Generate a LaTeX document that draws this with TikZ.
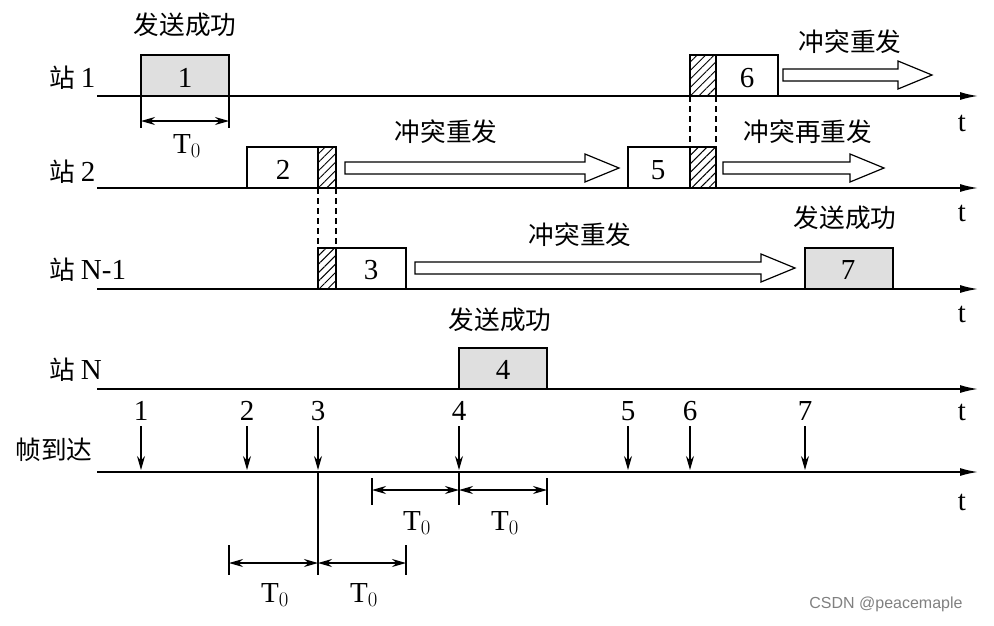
\documentclass[tikz,border=0pt]{standalone}
\usepackage{fontspec}
\setmainfont{Liberation Serif}
\newfontfamily\cjk{Noto Sans CJK SC}[Scale=0.95]
\usetikzlibrary{patterns,patterns.meta,arrows.meta}
\newcommand\hollowarr[4]{% name x1 x2 y
 \draw[line width=1.2pt,fill=white] (#2,#4-6) -- (#3-34,#4-6) -- (#3-34,#4-14) -- (#3,#4) -- (#3-34,#4+14) -- (#3-34,#4+6) -- (#2,#4+6) -- cycle;
 \coordinate (#1) at (#2,#4);}
\begin{document}
\begin{tikzpicture}[x=1pt,y=-1pt,
 ax/.style={line width=1.5pt,-{Latex[length=18pt,width=8pt]}},
 box/.style={draw,line width=1.2pt},
 gbox/.style={box,fill=gray!25},
 hat/.style={draw,line width=1.2pt,pattern={Lines[angle=45,distance=6pt,line width=1pt]}},
 lab/.style={font=\fontsize{29}{31}\selectfont},
 cn/.style={font=\fontsize{27}{29}\cjk},
 dim/.style={line width=1.2pt,{Stealth[length=14pt,width=8pt]}-{Stealth[length=14pt,width=8pt]}},
 tk/.style={line width=1.2pt},
 dsh/.style={line width=1.2pt,dash pattern=on 6pt off 4pt},
 arr/.style={line width=1.2pt,-{Stealth[length=14pt,width=8pt]}}]
\useasboundingbox (0,0) rectangle (994,625);
% axes
\foreach \n/\y/\ty in {a1/96/123,a2/188/213,a3/289/314,a4/389/412,a5/472/502}{
 \coordinate (\n s) at (97,\y); \coordinate (\n e) at (978,\y);
 \draw[ax] (\n s) -- (\n e);
 \node[lab] (t\n) at (962,\ty) {t};}
\node[cn,anchor=west] (s1) at (46,78) {站 \fontsize{29}{31}\rmfamily 1};
\node[cn,anchor=west] (s2) at (46,172) {站 \fontsize{29}{31}\rmfamily 2};
\node[cn,anchor=west] (s3) at (46,270) {站 \fontsize{29}{31}\rmfamily N-1};
\node[cn,anchor=west] (s4) at (46,370) {站 \fontsize{29}{31}\rmfamily N};
\node[cn,anchor=west] (s5) at (12,450) {帧到达};
% station 1
\draw[gbox] (141,55) rectangle (229,96); \node[lab] (n1) at (185,78) {1};
\node[cn] (l1) at (185,25) {发送成功};
\draw[tk] (141,96) -- (141,128) (229,96) -- (229,128);
\coordinate (d1a) at (141,121); \coordinate (d1b) at (229,121);
\draw[dim] (d1a) -- (d1b);
\node[lab] (T1) at (187,146) {T$_{\scriptstyle 0}$};
\draw[hat] (690,55) rectangle (716,96);
\draw[box] (716,55) rectangle (778,96); \node[lab] (n6) at (747,78) {6};
\hollowarr{h6}{783}{932}{75}
\node[cn] (l6) at (850,42) {冲突重发};
% station 2
\draw[box] (247,147) rectangle (318,188); \node[lab] (n2) at (283,170) {2};
\draw[hat] (318,147) rectangle (336,188);
\hollowarr{h2}{345}{619}{168}
\node[cn] (l2) at (446,132) {冲突重发};
\draw[box] (628,147) rectangle (690,188); \node[lab] (n5) at (658,170) {5};
\draw[hat] (690,147) rectangle (716,188);
\hollowarr{h5}{723}{884}{168}
\node[cn] (l5) at (808,132) {冲突再重发};
\draw[dsh] (690,96) -- (690,147) (716,96) -- (716,147);
% station N-1
\draw[hat] (318,248) rectangle (336,289);
\draw[box] (336,248) rectangle (406,289); \node[lab] (n3) at (371,270) {3};
\draw[dsh] (318,188) -- (318,248) (336,188) -- (336,248);
\hollowarr{h3}{415}{795}{268}
\node[cn] (l3) at (580,235) {冲突重发};
\draw[gbox] (805,248) rectangle (893,289); \node[lab] (n7) at (848,270) {7};
\node[cn] (l7) at (845,218) {发送成功};
% station N
\draw[gbox] (459,348) rectangle (547,389); \node[lab] (n4) at (503,370) {4};
\node[cn] (l4) at (500,320) {发送成功};
% arrivals
\foreach \i/\x in {1/141,2/247,3/318,4/459,5/628,6/690,7/805}{
 \node[lab] (f\i) at (\x,411) {\i};
 \coordinate (fa\i) at (\x,426); \coordinate (fb\i) at (\x,470);
 \draw[arr] (fa\i) -- (fb\i);}
% T0 dims
\draw[tk] (372,478) -- (372,505) (547,478) -- (547,505) (459,472) -- (459,505);
\coordinate (p1) at (372,490); \coordinate (p2) at (459,490); \coordinate (p3) at (547,490);
\draw[dim] (p1) -- (p2); \draw[dim] (p2) -- (p3);
\node[lab] (T2) at (417,523) {T$_{\scriptstyle 0}$}; \node[lab] (T3) at (505,523) {T$_{\scriptstyle 0}$};
\draw[tk] (229,545) -- (229,575) (406,545) -- (406,575) (318,472) -- (318,575);
\coordinate (q1) at (229,563); \coordinate (q2) at (318,563); \coordinate (q3) at (406,563);
\draw[dim] (q1) -- (q2); \draw[dim] (q2) -- (q3);
\node[lab] (T4) at (275,595) {T$_{\scriptstyle 0}$}; \node[lab] (T5) at (364,595) {T$_{\scriptstyle 0}$};
\node[font=\fontsize{16}{18}\selectfont\fontspec{Liberation Sans},text=gray] (wm) at (886,604) {CSDN @peacemaple};
\end{tikzpicture}
\end{document}
